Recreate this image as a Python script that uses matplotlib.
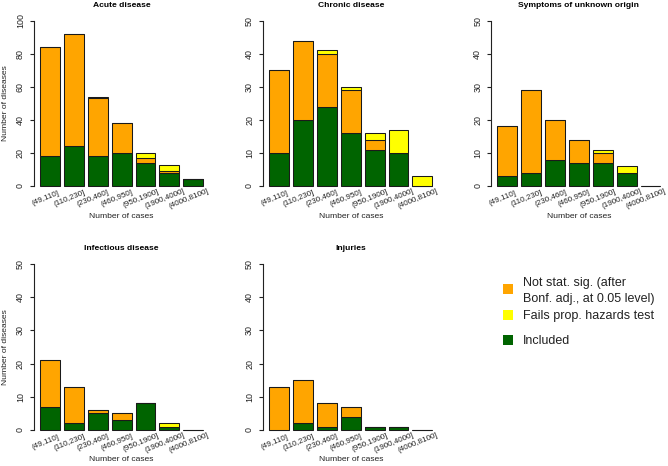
import matplotlib
matplotlib.use('Agg')
import matplotlib.pyplot as plt
from matplotlib.patches import Rectangle
from matplotlib.transforms import offset_copy

plt.rcParams['font.family'] = ['Liberation Sans', 'DejaVu Sans']

categories = ['(49,110]', '(110,230]', '(230,460]', '(460,950]',
              '(950,1900]', '(1900,4000]', '(4000,8100]']

panel_titles = ['Acute disease', 'Chronic disease', 'Symptoms of unknown origin',
                'Infectious disease', 'Injuries']

included_acute = [18, 24, 18, 20, 14, 8, 4]
notsig_acute = [66, 68, 35, 18, 3, 1, 0]
fails_acute = [0, 0, 1, 0, 3, 4, 0]

included_chronic = [10, 20, 24, 16, 11, 10, 0]
notsig_chronic = [25, 24, 16, 13, 3, 0, 0]
fails_chronic = [0, 0, 1, 1, 2, 7, 3]

included_symptoms = [3, 4, 8, 7, 7, 4, 0]
notsig_symptoms = [15, 25, 12, 7, 3, 0, 0]
fails_symptoms = [0, 0, 0, 0, 1, 2, 0]

included_infectious = [7, 2, 5, 3, 8, 1, 0]
notsig_infectious = [14, 11, 1, 2, 0, 0, 0]
fails_infectious = [0, 0, 0, 0, 0, 1, 0]

included_injuries = [0, 2, 1, 4, 1, 1, 0]
notsig_injuries = [13, 13, 7, 3, 0, 0, 0]
fails_injuries = [0, 0, 0, 0, 0, 0, 0]

included_all = [included_acute, included_chronic, included_symptoms,
                included_infectious, included_injuries]
notsig_all = [notsig_acute, notsig_chronic, notsig_symptoms,
              notsig_infectious, notsig_injuries]
fails_all = [fails_acute, fails_chronic, fails_symptoms,
             fails_infectious, fails_injuries]
ymax_all = [100, 50, 50, 50, 50]

legend_labels = ['Not stat. sig. (after', 'Bonf. adj., at 0.05 level)',
                 'Fails prop. hazards test', 'Included']

C_GREEN = '#006400'
C_ORANGE = '#FFA500'
C_YELLOW = '#FFFF00'
EDGE = '#1a1a1a'

W, H = 668, 466
fig = plt.figure(figsize=(W / 100, H / 100), dpi=100)

FS = 6.1
XFS = 5.8
YFS = 6.4


def px_axes(left, top, width, height):
    return fig.add_axes([left / W, 1 - (top + height) / H, width / W, height / H])


def ftext(x, y, s, **kw):
    fig.text(x / W, 1 - y / H, s, **kw)


col_left = [33.5, 262.7, 490.8]
ax_w = 176.2
rows = [(14.1, 192.6), (257.4, 436.6)]
zero_y = [186.0, 430.0]
title_y = [5.5, 248.5]
xlabel_y = [216.7, 459.5]

positions = [(0, 0), (0, 1), (0, 2), (1, 0), (1, 1)]

for k, (r, c) in enumerate(positions):
    top, bottom = rows[r]
    left = col_left[c]
    ax = px_axes(left, top, ax_w, bottom - top)
    ymax = ymax_all[k]
    pad = 0.04 * ymax
    ax.set_xlim(-0.128, 8.728)
    ax.set_ylim(-pad, ymax + pad)
    xs = [0.7 + 1.2 * i for i in range(len(categories))]
    inc = included_all[k]
    ns = notsig_all[k]
    fl = fails_all[k]
    b2 = [a + b for a, b in zip(inc, ns)]
    ax.bar(xs, inc, width=1.0, color=C_GREEN, edgecolor=EDGE, linewidth=0.75, zorder=2)
    ax.bar(xs, ns, width=1.0, bottom=inc, color=C_ORANGE, edgecolor=EDGE, linewidth=0.75, zorder=2)
    ax.bar(xs, fl, width=1.0, bottom=b2, color=C_YELLOW, edgecolor=EDGE, linewidth=0.75, zorder=2)

    for s in ['top', 'right', 'bottom']:
        ax.spines[s].set_visible(False)
    ax.spines['left'].set_bounds(0, ymax)
    ax.spines['left'].set_linewidth(0.8)
    ax.spines['left'].set_color('#222222')
    step = 20 if ymax == 100 else 10
    ax.set_yticks(list(range(0, ymax + 1, step)))
    ax.tick_params(axis='y', length=3.0, width=0.8, pad=3.2, labelsize=YFS,
                   labelrotation=90, colors='#222222')
    for lab in ax.get_yticklabels():
        lab.set_va('center')
    ax.set_xticks([])
    ax.patch.set_alpha(0)

    tr = offset_copy(ax.transData, fig=fig, x=-4.5, y=-12.7, units='dots')
    for x, lab in zip(xs, categories):
        ax.text(x, 0, lab, transform=tr, rotation=22, ha='center', va='center',
                rotation_mode='anchor', fontsize=XFS, color='#222222', clip_on=False)

    cx = left + ax_w / 2
    ftext(cx, title_y[r], panel_titles[k], ha='center', va='center',
          fontsize=FS, fontweight='bold')
    ftext(cx, xlabel_y[r], 'Number of cases', ha='center',
          va='center', fontsize=FS, color='#222222')
    if c == 0:
        ftext(5.5, (top + bottom) / 2, 'Number of diseases', ha='center',
              va='center', rotation=90, fontsize=FS, color='#222222')

# legend
LFS = 9.0
sq = 10
for (yc, col) in [(289.3, C_ORANGE), (315.3, C_YELLOW), (340.3, C_GREEN)]:
    fig.patches.append(Rectangle(((502.7) / W, 1 - (yc + sq / 2) / H), sq / W, sq / H,
                                 transform=fig.transFigure, facecolor=col,
                                 edgecolor='none'))
ftext(523.3, 283.3, legend_labels[0], ha='left', va='center', fontsize=LFS, color='#222222')
ftext(523.3, 299.0, legend_labels[1], ha='left', va='center', fontsize=LFS, color='#222222')
ftext(523.3, 316.0, legend_labels[2], ha='left', va='center', fontsize=LFS, color='#222222')
ftext(523.3, 341.0, legend_labels[3], ha='left', va='center', fontsize=LFS, color='#222222')

fig.savefig('out.png', dpi=100)
